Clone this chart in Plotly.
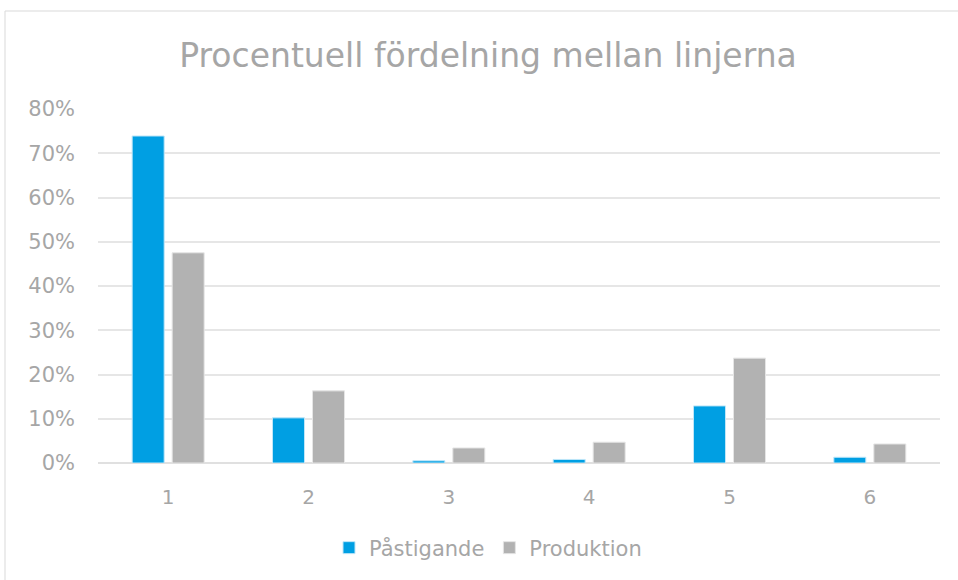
import plotly.graph_objects as go

categories = ["1", "2", "3", "4", "5", "6"]
pastigande = [0.739, 0.102, 0.005, 0.008, 0.129, 0.013]
produktion = [0.475, 0.163, 0.034, 0.047, 0.237, 0.043]
series_names = ["Påstigande", "Produktion"]
tick_vals = [0, 0.1, 0.2, 0.3, 0.4, 0.5, 0.6, 0.7, 0.8]

BLUE = "#009FE3"
GRAY = "#B2B2B2"
TEXT = "#A6A6A6"
FONT = "DejaVu Sans"

fig = go.Figure()
fig.add_trace(go.Bar(x=categories, y=pastigande, name=series_names[0],
                     marker=dict(color=BLUE, line=dict(color="#BFE6F8", width=1))))
fig.add_trace(go.Bar(x=categories, y=produktion, name=series_names[1],
                     marker=dict(color=GRAY, line=dict(color="#E5E5E5", width=1))))

W, H = 958, 580
L, T = 98, 109
R = W - 940
B = H - 463
pw, ph = W - L - R, H - T - B

fig.update_layout(
    width=W, height=H,
    margin=dict(l=L, r=R, t=T, b=B),
    paper_bgcolor="white", plot_bgcolor="white",
    barmode="group", bargap=0.43, bargroupgap=0.2,
    title=dict(text="Procentuell fördelning mellan linjerna",
               font=dict(family=FONT, size=33, color=TEXT),
               x=488 / W, xanchor="center", y=1 - 55 / H, yanchor="middle"),
    font=dict(family=FONT, color=TEXT),
    showlegend=True,
    legend=dict(orientation="h", x=0.5 - 31 / pw, xanchor="center",
                y=-(548 - 463) / ph, yanchor="middle",
                font=dict(family=FONT, size=21, color=TEXT),
                itemwidth=30, traceorder="normal"),
    xaxis=dict(type="category", showgrid=False, showline=False, ticks="",
               tickfont=dict(family=FONT, size=20, color=TEXT),
               ticklabelstandoff=20),
    yaxis=dict(range=[0, 0.8], tickvals=tick_vals, tickformat=".0%",
               showgrid=True, gridcolor="#E6E6E6", gridwidth=1.5,
               zeroline=True, zerolinecolor="#E0E0E0", zerolinewidth=1.5,
               showline=False, ticks="",
               tickfont=dict(family=FONT, size=21, color=TEXT),
               ticklabelstandoff=22),
    shapes=[dict(type="rect", xref="paper", yref="paper",
                 x0=(5 - L) / pw, x1=(965 - L) / pw,
                 y0=-(585 - 463) / ph, y1=(463 - 11) / ph,
                 line=dict(color="#D9D9D9", width=1), fillcolor="rgba(0,0,0,0)",
                 layer="below")],
)

fig.write_html("out.html", config={"displayModeBar": False},
               post_script="document.body.style.margin='0';document.body.style.overflow='hidden';")
